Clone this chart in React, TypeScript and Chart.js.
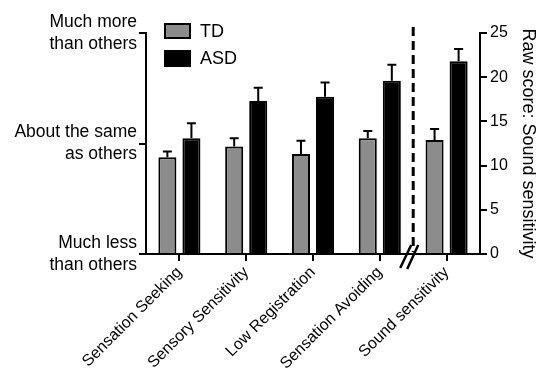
import React, { useEffect, useRef } from "react";
import { Chart, registerables } from "chart.js";

Chart.register(...registerables);

const categories = [
  "Sensation Seeking",
  "Sensory Sensitivity",
  "Low Registration",
  "Sensation Avoiding",
  "Sound sensitivity",
];
const tdMeans = [10.95, 12.15, 11.3, 13.1, 12.9];
const tdErrors = [0.65, 0.95, 1.5, 0.8, 1.25];
const asdMeans = [13.1, 17.3, 17.8, 19.6, 21.8];
const asdErrors = [1.7, 1.5, 1.6, 1.8, 1.4];
const seriesNames = ["TD", "ASD"];
const rightTickStep = 5;
const leftTickValues = [0, 12.5, 25];
const leftTickLabels = [
  ["Much less", "than others"],
  ["About the same", "as others"],
  ["Much more", "than others"],
];
const rightAxisTitle = "Raw score: Sound sensitivity";
const breakBetween = 3.5;

const FONT = "'Liberation Sans', Arial, Helvetica, sans-serif";
const TD_COLOR = "#8c8c8c";
const ASD_COLOR = "#000000";

const errorBarPlugin = {
  id: "errorBars",
  afterDatasetsDraw(chart: any) {
    const ctx = chart.ctx;
    const yScale = chart.scales.yR;
    const errs = [tdErrors, asdErrors];
    const means = [tdMeans, asdMeans];
    ctx.save();
    ctx.strokeStyle = "#000";
    ctx.lineWidth = 2;
    chart.data.datasets.forEach((ds: any, i: number) => {
      const meta = chart.getDatasetMeta(i);
      meta.data.forEach((bar: any, j: number) => {
        const top = yScale.getPixelForValue(means[i][j] + errs[i][j]);
        const x = bar.x;
        ctx.beginPath();
        ctx.moveTo(x, bar.y);
        ctx.lineTo(x, top);
        ctx.moveTo(x - 4.5, top);
        ctx.lineTo(x + 4.5, top);
        ctx.stroke();
      });
    });
    ctx.restore();
  },
};

const breakPlugin = {
  id: "axisBreak",
  afterDraw(chart: any) {
    const ctx = chart.ctx;
    const xScale = chart.scales.x;
    const area = chart.chartArea;
    const bx = xScale.getPixelForValue(breakBetween);
    const b = area.bottom;
    ctx.save();
    // dashed separator
    ctx.strokeStyle = "#000";
    ctx.lineWidth = 3;
    ctx.setLineDash([9, 5]);
    ctx.beginPath();
    ctx.moveTo(bx, area.top - 6);
    ctx.lineTo(bx, b - 2);
    ctx.stroke();
    ctx.setLineDash([]);
    // break marks
    ctx.lineWidth = 2.5;
    ctx.beginPath();
    ctx.moveTo(bx - 13, b + 14);
    ctx.lineTo(bx - 2, b - 9);
    ctx.moveTo(bx - 6, b + 15);
    ctx.lineTo(bx + 5, b - 9);
    ctx.stroke();
    ctx.restore();
  },
};

const legendPlugin = {
  id: "customLegend",
  afterDraw(chart: any) {
    const ctx = chart.ctx;
    const area = chart.chartArea;
    const x0 = area.left + 18;
    const colors = [TD_COLOR, ASD_COLOR];
    const boxTops = [area.top - 10, area.top + 17];
    const boxH = [16, 17];
    ctx.save();
    ctx.font = `18px ${FONT}`;
    ctx.textBaseline = "middle";
    ctx.textAlign = "left";
    seriesNames.forEach((name, i) => {
      ctx.fillStyle = colors[i];
      ctx.fillRect(x0, boxTops[i], 27, boxH[i]);
      ctx.strokeStyle = "#000";
      ctx.lineWidth = 2;
      ctx.strokeRect(x0 + 1, boxTops[i] + 1, 25, boxH[i] - 2);
      ctx.fillStyle = "#000";
      ctx.fillText(name, x0 + 36, boxTops[i] + boxH[i] / 2 + 1);
    });
    ctx.restore();
  },
};

export default function App() {
  const canvasRef = useRef<HTMLCanvasElement | null>(null);

  useEffect(() => {
    const canvas = canvasRef.current;
    if (!canvas) return;
    const chart = new Chart(canvas, {
      type: "bar",
      data: {
        labels: categories,
        datasets: [
          {
            label: seriesNames[0],
            data: tdMeans,
            backgroundColor: TD_COLOR,
            borderColor: "#000",
            borderWidth: 2,
            yAxisID: "yR",
            barPercentage: 0.75,
            categoryPercentage: 0.72,
          },
          {
            label: seriesNames[1],
            data: asdMeans,
            backgroundColor: ASD_COLOR,
            borderColor: "#000",
            borderWidth: 2,
            yAxisID: "yR",
            barPercentage: 0.75,
            categoryPercentage: 0.72,
          },
        ],
      },
      options: {
        responsive: false,
        animation: false,
        devicePixelRatio: 1,
        layout: { padding: { top: 33, left: 0, right: 0, bottom: 0 } },
        plugins: {
          legend: { display: false },
          tooltip: { enabled: false },
        },
        scales: {
          x: {
            type: "category",
            offset: true,
            grid: {
              display: true,
              drawOnChartArea: false,
              drawTicks: true,
              tickLength: 7,
              lineWidth: 2,
              tickWidth: 2,
              color: "#000",
              tickColor: "#000",
              offset: false,
            },
            border: { display: true, color: "#000", width: 2 },
            ticks: {
              autoSkip: false,
              maxRotation: 45,
              minRotation: 45,
              padding: 2,
              color: "#000",
              font: { family: FONT, size: 16 },
            },
            afterFit(scale: any) {
              scale.height = 117;
            },
          },
          yL: {
            type: "linear",
            position: "left",
            min: 0,
            max: 25,
            afterBuildTicks(scale: any) {
              scale.ticks = leftTickValues.map((v) => ({ value: v }));
            },
            grid: {
              display: true,
              drawOnChartArea: false,
              drawTicks: true,
              tickLength: 7,
              lineWidth: 2,
              tickWidth: 2,
              color: "#000",
              tickColor: "#000",
            },
            border: { display: true, color: "#000", width: 2 },
            ticks: {
              padding: 2,
              color: "#000",
              font: { family: FONT, size: 17.5, lineHeight: 1.25 },
              callback: (_v: any, i: number) => leftTickLabels[i],
            },
            afterFit(scale: any) {
              scale.width = 146;
            },
          },
          yR: {
            type: "linear",
            position: "right",
            min: 0,
            max: 25,
            grid: {
              display: true,
              drawOnChartArea: false,
              drawTicks: true,
              tickLength: 7,
              lineWidth: 2,
              tickWidth: 2,
              color: "#000",
              tickColor: "#000",
            },
            border: { display: true, color: "#000", width: 2 },
            ticks: {
              stepSize: rightTickStep,
              padding: 3,
              color: "#000",
              font: { family: FONT, size: 16 },
            },
            title: {
              display: true,
              text: rightAxisTitle,
              color: "#000",
              font: { family: FONT, size: 18 },
              padding: { top: 3, bottom: 0 },
            },
            afterFit(scale: any) {
              scale.width = 62;
            },
          },
        },
      } as any,
      plugins: [errorBarPlugin, breakPlugin, legendPlugin],
    });
    return () => chart.destroy();
  }, []);

  return (
    <div
      style={{
        position: "absolute",
        left: 0,
        top: 0,
        width: 542,
        height: 371,
        background: "#fff",
      }}
    >
      <canvas ref={canvasRef} width={542} height={371} />
    </div>
  );
}
